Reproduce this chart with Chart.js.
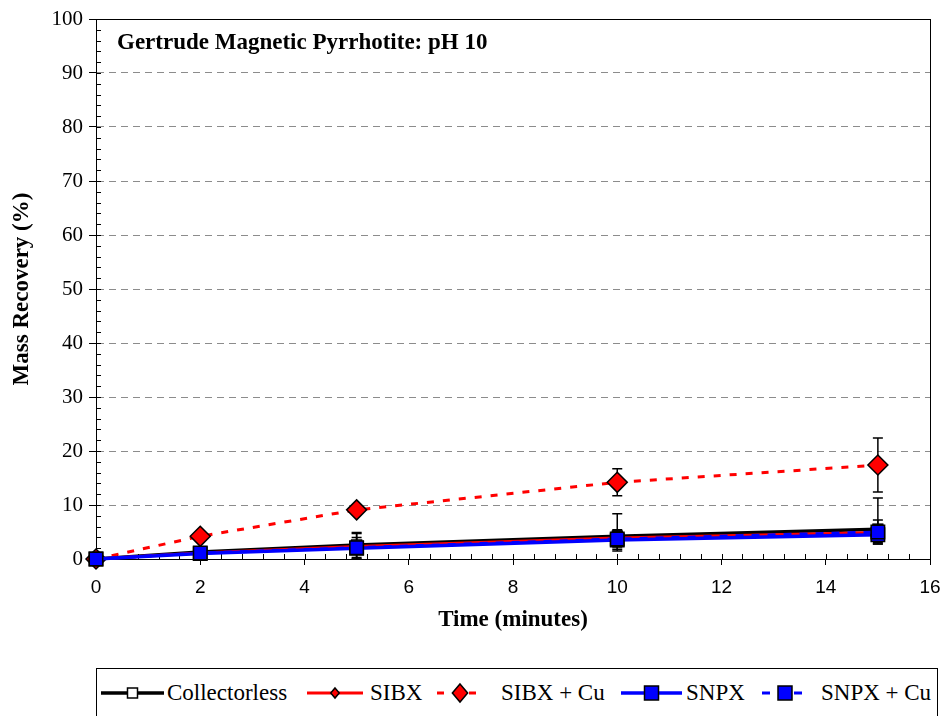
<!DOCTYPE html>
<html><head><meta charset="utf-8">
<script src="https://cdn.jsdelivr.net/npm/chart.js@4/dist/chart.umd.min.js"></script>
<style>
html,body{margin:0;padding:0;background:#fff;overflow:hidden;}
#wrap{position:relative;width:944px;height:716px;}
#c{position:absolute;left:0;top:0;}
#ptitle{position:absolute;left:117px;top:28px;font-family:"Liberation Serif","Times New Roman",serif;font-weight:bold;font-size:23px;line-height:28px;color:#000;white-space:nowrap;}
#legend{position:absolute;left:96px;top:668px;width:842px;height:70px;border:1px solid #000;box-sizing:border-box;background:#fff;}
.lt{position:absolute;top:10px;font-family:"Liberation Serif","Times New Roman",serif;font-size:23px;color:#000;white-space:nowrap;line-height:28px;}
.ls{position:absolute;top:12px;}
</style></head>
<body><div id="wrap">
<canvas id="c" width="944" height="716"></canvas>
<div id="ptitle">Gertrude Magnetic Pyrrhotite: pH 10</div>
<div id="legend"></div>
</div>
<script>
const times = [0, 2, 5, 10, 15];
const seriesNames = ["Collectorless", "SIBX", "SIBX + Cu", "SNPX", "SNPX + Cu"];
const collectorless = [0, 1.3, 2.6, 4.2, 5.5];
const collectorlessErrPlus = [0, 0.4, 2.3, 4.2, 5.8];
const collectorlessErrMinus = [0, 0.4, 2.3, 2.7, 2.7];
const sibx = [0, 1.1, 2.3, 3.9, 4.9];
const sibxErr = [0, 0.3, 2.4, 1.5, 1.5];
const sibxCu = [0, 4.2, 9.1, 14.2, 17.4];
const sibxCuErr = [0, 0.4, 0.8, 2.5, 5.0];
const snpx = [0, 1.0, 2.0, 3.5, 4.5];
const snpxErr = [0, 0.3, 2.0, 1.7, 1.5];
const snpxCu = [0, 1.1, 2.1, 3.7, 5.0];
const snpxCuErr = [0, 0.3, 0.5, 1.5, 2.2];
const xTicks = [0, 2, 4, 6, 8, 10, 12, 14, 16];
const yTicks = [0, 10, 20, 30, 40, 50, 60, 70, 80, 90, 100];

const FONT = '"Liberation Serif", "Times New Roman", serif';
const SANS = '"Liberation Sans", Arial, sans-serif';
const pts = (arr) => times.map((t, i) => ({x: t, y: arr[i]}));

const styles = [
  {color:'#000000', dash:[], width:3.5, ps:'rect', r:7, bg:'#ffffff', order:5},
  {color:'#ff0000', dash:[], width:3, ps:'rectRot', r:5, bg:'#ff0000', order:4},
  {color:'#ff0000', dash:[7,9], width:3, ps:'rectRot', r:10, bg:'#ff0000', order:3},
  {color:'#0000ff', dash:[], width:3.5, ps:'rect', r:9.5, bg:'#0000ff', order:2},
  {color:'#0000ff', dash:[8,8], width:3, ps:'rect', r:9.5, bg:'#0000ff', order:1}
];
const values = [collectorless, sibx, sibxCu, snpx, snpxCu];
const errsPlus = [collectorlessErrPlus, sibxErr, sibxCuErr, snpxErr, snpxCuErr];
const errsMinus = [collectorlessErrMinus, sibxErr, sibxCuErr, snpxErr, snpxCuErr];

const datasets = values.map((v, i) => ({
  label: seriesNames[i],
  data: pts(v),
  borderColor: styles[i].color,
  borderDash: styles[i].dash,
  borderWidth: styles[i].width,
  pointStyle: styles[i].ps,
  pointRadius: styles[i].r,
  pointHoverRadius: styles[i].r,
  pointBackgroundColor: styles[i].bg,
  pointBorderColor: '#000000',
  pointBorderWidth: 1.5,
  order: styles[i].order,
  tension: 0,
  fill: false,
  clip: false,
  errPlus: errsPlus[i],
  errMinus: errsMinus[i]
}));

const errorBars = {
  id: 'errorBars',
  beforeDatasetsDraw(chart) {
    const {ctx, scales:{x, y}} = chart;
    ctx.save();
    ctx.strokeStyle = '#000';
    ctx.lineWidth = 1.5;
    chart.data.datasets.forEach(ds => {
      ds.data.forEach((p, i) => {
        const ep = ds.errPlus[i], em = ds.errMinus[i];
        if (!ep && !em) return;
        const px = x.getPixelForValue(p.x);
        const y1 = y.getPixelForValue(p.y + ep);
        const y2 = y.getPixelForValue(Math.max(0, p.y - em));
        ctx.beginPath();
        ctx.moveTo(px, y1); ctx.lineTo(px, y2);
        ctx.moveTo(px - 5, y1); ctx.lineTo(px + 5, y1);
        ctx.moveTo(px - 5, y2); ctx.lineTo(px + 5, y2);
        ctx.stroke();
      });
    });
    ctx.restore();
  }
};

const frame = {
  id: 'frame',
  beforeDatasetsDraw(chart) {
    const {ctx, chartArea:a, scales:{x, y}} = chart;
    ctx.save();
    ctx.strokeStyle = '#000';
    ctx.lineWidth = 1;
    ctx.strokeRect(Math.round(a.left) + 0.5, Math.round(a.top) + 0.5, Math.round(a.right - a.left), Math.round(a.bottom - a.top));
    ctx.beginPath();
    for (let v = 0; v <= 100; v += 2) {
      const py = Math.round(y.getPixelForValue(v)) + 0.5;
      ctx.moveTo(a.left, py); ctx.lineTo(a.left + 5, py);
    }
    for (let k = 0; k <= 40; k++) {
      const v = k * 0.4;
      const px = Math.round(x.getPixelForValue(v)) + 0.5;
      ctx.moveTo(px, a.bottom); ctx.lineTo(px, a.bottom - 5);
    }
    ctx.stroke();
    ctx.restore();
  }
};

new Chart(document.getElementById('c'), {
  type: 'line',
  data: { datasets },
  options: {
    responsive: false,
    animation: false,
    events: [],
    layout: { padding: { left: 0, right: 14, top: 19, bottom: 77 } },
    plugins: { legend: { display: false }, tooltip: { enabled: false }, title: { display: false } },
    scales: {
      x: {
        type: 'linear', min: 0, max: 16,
        afterFit(s) { s.height = 80; s.paddingRight = 14; s.paddingLeft = 0; },
        afterBuildTicks(s) { s.ticks = xTicks.map(v => ({value: v})); },
        ticks: { color: '#000', font: { family: SANS, size: 19 }, padding: 11, maxRotation: 0 },
        grid: { drawOnChartArea: false, tickLength: 6, tickColor: '#000', color: '#000' },
        border: { display: true, color: '#000', width: 1 },
        title: { display: true, text: 'Time (minutes)', color: '#000', font: { family: FONT, size: 23, weight: 'bold' }, padding: { top: 0, bottom: 5 } }
      },
      y: {
        min: 0, max: 100,
        afterFit(s) { s.width = 96; },
        afterBuildTicks(s) { s.ticks = yTicks.map(v => ({value: v})); },
        ticks: { color: '#000', font: { family: FONT, size: 21 }, padding: 6 },
        grid: {
          color: (c) => (c.tick && (c.tick.value === 0 || c.tick.value === 100)) ? 'rgba(0,0,0,0)' : '#8c8c8c',
          tickBorderDash: [],
          tickColor: '#000',
          tickLength: 7,
          lineWidth: 1
        },
        border: { display: true, color: '#000', width: 1, dash: [7, 5] },
        title: { display: true, text: 'Mass Recovery (%)', color: '#000', font: { family: FONT, size: 23, weight: 'bold' }, padding: { top: 8, bottom: 0 } }
      }
    }
  },
  plugins: [frame, errorBars]
});

const leg = document.getElementById('legend');
const sampleX = [4, 210, 340, 524, 665];
const textX = [70, 273, 404, 589, 724];
const sampleW = [63, 56, 46, 61, 46];
seriesNames.forEach((name, i) => {
  const st = styles[i];
  const w = sampleW[i];
  const cx = w / 2, cy = 12;
  let marker = '';
  const mr = i === 0 ? 5 : (i === 1 ? 5 : (i === 2 ? 9 : 7));
  if (st.ps === 'rect') {
    marker = `<rect x="${cx - mr}" y="${cy - mr}" width="${2 * mr}" height="${2 * mr}" fill="${st.bg}" stroke="#000" stroke-width="1.5"/>`;
  } else {
    marker = `<polygon points="${cx},${cy - mr} ${cx + mr * 0.85},${cy} ${cx},${cy + mr} ${cx - mr * 0.85},${cy}" fill="${st.bg}" stroke="#000" stroke-width="1.5"/>`;
  }
  const dash = st.dash.length ? `stroke-dasharray="${st.dash.join(',')}"` : '';
  const svg = `<svg class="ls" style="left:${sampleX[i]}px" width="${w}" height="24"><line x1="0" y1="${cy}" x2="${w}" y2="${cy}" stroke="${st.color}" stroke-width="${st.width}" ${dash}/>${marker}</svg>`;
  leg.insertAdjacentHTML('beforeend', svg + `<span class="lt" style="left:${textX[i]}px">${name}</span>`);
});
</script>
</body></html>
